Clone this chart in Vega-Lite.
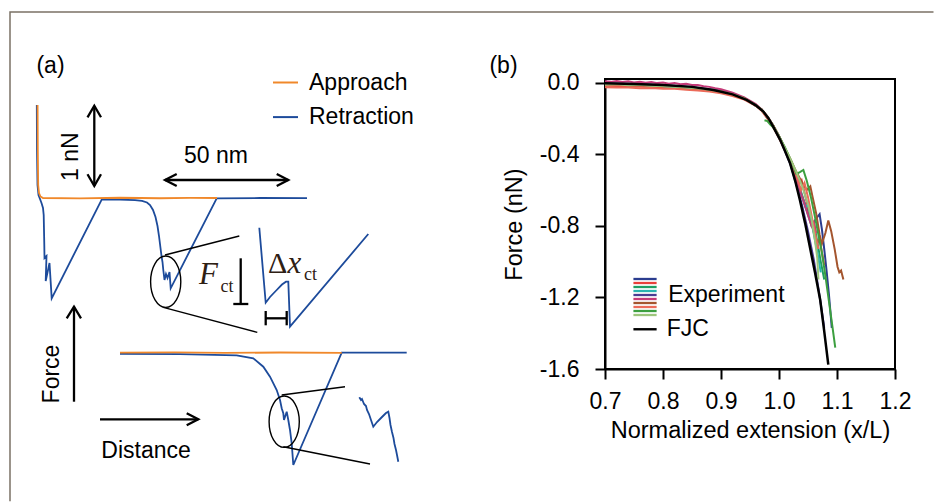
{
  "$schema": "https://vega.github.io/schema/vega-lite/v6.json",
  "padding": 0,
  "background": "white",
  "config": {"font": "Liberation Sans", "view": {"stroke": null}},
  "spacing": 125,
  "bounds": "flush",
  "center": true,
  "resolve": {"scale": {"color": "independent"}, "legend": {"color": "independent"}},
  "datasets": {
    "border": [
      {"seq": 1, "nm": 4, "nN": -3.79},
      {"seq": 2, "nm": 4, "nN": 2.325},
      {"seq": 3, "nm": 373.4, "nN": 2.325}
    ],
    "approach": [
      {"series": "Approach", "part": "aT", "seq": 1, "nm": 15.04, "nN": 1.1625},
      {"series": "Approach", "part": "aT", "seq": 2, "nm": 15.08, "nN": 0.85},
      {"series": "Approach", "part": "aT", "seq": 3, "nm": 15.12, "nN": 0.6},
      {"series": "Approach", "part": "aT", "seq": 4, "nm": 15.2, "nN": 0.35},
      {"series": "Approach", "part": "aT", "seq": 5, "nm": 15.28, "nN": 0.1625},
      {"series": "Approach", "part": "aT", "seq": 6, "nm": 15.6, "nN": 0.0625},
      {"series": "Approach", "part": "aT", "seq": 7, "nm": 16.2, "nN": 0.0188},
      {"series": "Approach", "part": "aT", "seq": 8, "nm": 17.2, "nN": 0},
      {"series": "Approach", "part": "aT", "seq": 9, "nm": 32, "nN": -0.004},
      {"series": "Approach", "part": "aT", "seq": 10, "nm": 48, "nN": 0.003},
      {"series": "Approach", "part": "aT", "seq": 11, "nm": 64, "nN": -0.003},
      {"series": "Approach", "part": "aT", "seq": 12, "nm": 76, "nN": 0.002},
      {"series": "Approach", "part": "aT", "seq": 13, "nm": 86.8, "nN": 0},
      {"series": "Approach", "part": "aB", "seq": 1, "nm": 48, "nN": -1.9338},
      {"series": "Approach", "part": "aB", "seq": 2, "nm": 70, "nN": -1.93},
      {"series": "Approach", "part": "aB", "seq": 3, "nm": 90, "nN": -1.937},
      {"series": "Approach", "part": "aB", "seq": 4, "nm": 112, "nN": -1.9315},
      {"series": "Approach", "part": "aB", "seq": 5, "nm": 136.7, "nN": -1.935}
    ],
    "retraction": [
      {"series": "Retraction", "part": "rT", "seq": 1, "nm": 14.72, "nN": 1.1625},
      {"series": "Retraction", "part": "rT", "seq": 2, "nm": 14.8, "nN": 0.6},
      {"series": "Retraction", "part": "rT", "seq": 3, "nm": 15, "nN": 0.1625},
      {"series": "Retraction", "part": "rT", "seq": 4, "nm": 15.4, "nN": 0.0375},
      {"series": "Retraction", "part": "rT", "seq": 5, "nm": 16, "nN": -0.0125},
      {"series": "Retraction", "part": "rT", "seq": 6, "nm": 16.6, "nN": -0.0625},
      {"series": "Retraction", "part": "rT", "seq": 7, "nm": 17.2, "nN": -0.125},
      {"series": "Retraction", "part": "rT", "seq": 8, "nm": 17.48, "nN": -0.2125},
      {"series": "Retraction", "part": "rT", "seq": 9, "nm": 17.6, "nN": -0.4},
      {"series": "Retraction", "part": "rT", "seq": 10, "nm": 17.72, "nN": -0.5875},
      {"series": "Retraction", "part": "rT", "seq": 11, "nm": 17.8, "nN": -0.75},
      {"series": "Retraction", "part": "rT", "seq": 12, "nm": 18.6, "nN": -0.725},
      {"series": "Retraction", "part": "rT", "seq": 13, "nm": 18.28, "nN": -1.0375},
      {"series": "Retraction", "part": "rT", "seq": 14, "nm": 19.8, "nN": -0.8125},
      {"series": "Retraction", "part": "rT", "seq": 15, "nm": 20.68, "nN": -1.2538},
      {"series": "Retraction", "part": "rT", "seq": 16, "nm": 40.68, "nN": -0.02},
      {"series": "Retraction", "part": "rT", "seq": 17, "nm": 48, "nN": -0.021},
      {"series": "Retraction", "part": "rT", "seq": 18, "nm": 54, "nN": -0.026},
      {"series": "Retraction", "part": "rT", "seq": 19, "nm": 56.8, "nN": -0.036},
      {"series": "Retraction", "part": "rT", "seq": 20, "nm": 58.8, "nN": -0.0563},
      {"series": "Retraction", "part": "rT", "seq": 21, "nm": 60, "nN": -0.0875},
      {"series": "Retraction", "part": "rT", "seq": 22, "nm": 61.2, "nN": -0.15},
      {"series": "Retraction", "part": "rT", "seq": 23, "nm": 62.2, "nN": -0.2375},
      {"series": "Retraction", "part": "rT", "seq": 24, "nm": 63, "nN": -0.35},
      {"series": "Retraction", "part": "rT", "seq": 25, "nm": 63.6, "nN": -0.475},
      {"series": "Retraction", "part": "rT", "seq": 26, "nm": 64.2, "nN": -0.625},
      {"series": "Retraction", "part": "rT", "seq": 27, "nm": 64.6, "nN": -0.725},
      {"series": "Retraction", "part": "rT", "seq": 28, "nm": 65, "nN": -0.8},
      {"series": "Retraction", "part": "rT", "seq": 29, "nm": 65.32, "nN": -0.9},
      {"series": "Retraction", "part": "rT", "seq": 30, "nm": 65.8, "nN": -1.025},
      {"series": "Retraction", "part": "rT", "seq": 31, "nm": 66.4, "nN": -0.95},
      {"series": "Retraction", "part": "rT", "seq": 32, "nm": 67, "nN": -1.0},
      {"series": "Retraction", "part": "rT", "seq": 33, "nm": 67.8, "nN": -0.925},
      {"series": "Retraction", "part": "rT", "seq": 34, "nm": 68.28, "nN": -1.1288},
      {"series": "Retraction", "part": "rT", "seq": 35, "nm": 86.68, "nN": -0.0038},
      {"series": "Retraction", "part": "rT", "seq": 36, "nm": 104, "nN": 0},
      {"series": "Retraction", "part": "rT", "seq": 37, "nm": 122.8, "nN": -0.0025},
      {"series": "Retraction", "part": "rB", "seq": 1, "nm": 48, "nN": -1.948},
      {"series": "Retraction", "part": "rB", "seq": 2, "nm": 72, "nN": -1.952},
      {"series": "Retraction", "part": "rB", "seq": 3, "nm": 94.68, "nN": -1.966},
      {"series": "Retraction", "part": "rB", "seq": 4, "nm": 101.32, "nN": -2.0038},
      {"series": "Retraction", "part": "rB", "seq": 5, "nm": 105.32, "nN": -2.1088},
      {"series": "Retraction", "part": "rB", "seq": 6, "nm": 108, "nN": -2.2338},
      {"series": "Retraction", "part": "rB", "seq": 7, "nm": 110.68, "nN": -2.4},
      {"series": "Retraction", "part": "rB", "seq": 8, "nm": 112, "nN": -2.525},
      {"series": "Retraction", "part": "rB", "seq": 9, "nm": 112.68, "nN": -2.6288},
      {"series": "Retraction", "part": "rB", "seq": 10, "nm": 113.32, "nN": -2.6913},
      {"series": "Retraction", "part": "rB", "seq": 11, "nm": 113.6, "nN": -2.775},
      {"series": "Retraction", "part": "rB", "seq": 12, "nm": 114.68, "nN": -2.6713},
      {"series": "Retraction", "part": "rB", "seq": 13, "nm": 115.32, "nN": -2.775},
      {"series": "Retraction", "part": "rB", "seq": 14, "nm": 116, "nN": -2.9},
      {"series": "Retraction", "part": "rB", "seq": 15, "nm": 116.68, "nN": -3.0663},
      {"series": "Retraction", "part": "rB", "seq": 16, "nm": 117.32, "nN": -3.3375},
      {"series": "Retraction", "part": "rB", "seq": 17, "nm": 136.68, "nN": -1.9338},
      {"series": "Retraction", "part": "rB", "seq": 18, "nm": 162.68, "nN": -1.9338},
      {"series": "Retraction", "part": "iT", "seq": 1, "nm": 103.72, "nN": -0.3713},
      {"series": "Retraction", "part": "iT", "seq": 2, "nm": 106.28, "nN": -1.3088},
      {"series": "Retraction", "part": "iT", "seq": 3, "nm": 108, "nN": -1.2375},
      {"series": "Retraction", "part": "iT", "seq": 4, "nm": 110.68, "nN": -1.15},
      {"series": "Retraction", "part": "iT", "seq": 5, "nm": 112.8, "nN": -1.0813},
      {"series": "Retraction", "part": "iT", "seq": 6, "nm": 114.4, "nN": -1.0463},
      {"series": "Retraction", "part": "iT", "seq": 7, "nm": 115.32, "nN": -1.0463},
      {"series": "Retraction", "part": "iT", "seq": 8, "nm": 116, "nN": -1.6088},
      {"series": "Retraction", "part": "iT", "seq": 9, "nm": 147.32, "nN": -0.45},
      {"series": "Retraction", "part": "iB", "seq": 1, "nm": 143.72, "nN": -2.4913},
      {"series": "Retraction", "part": "iB", "seq": 2, "nm": 144.4, "nN": -2.525},
      {"series": "Retraction", "part": "iB", "seq": 3, "nm": 144.8, "nN": -2.5125},
      {"series": "Retraction", "part": "iB", "seq": 4, "nm": 145.6, "nN": -2.575},
      {"series": "Retraction", "part": "iB", "seq": 5, "nm": 146.4, "nN": -2.6},
      {"series": "Retraction", "part": "iB", "seq": 6, "nm": 146.8, "nN": -2.65},
      {"series": "Retraction", "part": "iB", "seq": 7, "nm": 147.6, "nN": -2.7},
      {"series": "Retraction", "part": "iB", "seq": 8, "nm": 148.4, "nN": -2.775},
      {"series": "Retraction", "part": "iB", "seq": 9, "nm": 149.32, "nN": -2.8588},
      {"series": "Retraction", "part": "iB", "seq": 10, "nm": 150.8, "nN": -2.8},
      {"series": "Retraction", "part": "iB", "seq": 11, "nm": 152.4, "nN": -2.75},
      {"series": "Retraction", "part": "iB", "seq": 12, "nm": 153.6, "nN": -2.7125},
      {"series": "Retraction", "part": "iB", "seq": 13, "nm": 154.4, "nN": -2.6875},
      {"series": "Retraction", "part": "iB", "seq": 14, "nm": 155.32, "nN": -2.6713},
      {"series": "Retraction", "part": "iB", "seq": 15, "nm": 155.8, "nN": -2.75},
      {"series": "Retraction", "part": "iB", "seq": 16, "nm": 156.2, "nN": -2.8375},
      {"series": "Retraction", "part": "iB", "seq": 17, "nm": 156.8, "nN": -2.925},
      {"series": "Retraction", "part": "iB", "seq": 18, "nm": 157.4, "nN": -3.0},
      {"series": "Retraction", "part": "iB", "seq": 19, "nm": 157.8, "nN": -3.075},
      {"series": "Retraction", "part": "iB", "seq": 20, "nm": 158.4, "nN": -3.15},
      {"series": "Retraction", "part": "iB", "seq": 21, "nm": 158.8, "nN": -3.2125},
      {"series": "Retraction", "part": "iB", "seq": 22, "nm": 159.32, "nN": -3.2963}
    ],
    "guides": [
      {"part": "tT1", "seq": 1, "nm": 66, "nN": -0.7125},
      {"part": "tT1", "seq": 2, "nm": 95.72, "nN": -0.475},
      {"part": "tT2", "seq": 1, "nm": 65.32, "nN": -1.3663},
      {"part": "tT2", "seq": 2, "nm": 102.92, "nN": -1.6788},
      {"part": "tB1", "seq": 1, "nm": 112.68, "nN": -2.4625},
      {"part": "tB1", "seq": 2, "nm": 138, "nN": -2.3588},
      {"part": "tB2", "seq": 1, "nm": 113.32, "nN": -3.1088},
      {"part": "tB2", "seq": 2, "nm": 148, "nN": -3.325}
    ],
    "arrows": [
      {"part": "s1", "seq": 1, "nm": 37.72, "nN": 1.15},
      {"part": "s1", "seq": 2, "nm": 37.72, "nN": 0.15},
      {"part": "h1", "seq": 1, "nm": 35, "nN": 1.0088},
      {"part": "h1", "seq": 2, "nm": 37.72, "nN": 1.1538},
      {"part": "h1", "seq": 3, "nm": 40.4, "nN": 1.0088},
      {"part": "h2", "seq": 1, "nm": 35, "nN": 0.2963},
      {"part": "h2", "seq": 2, "nm": 37.72, "nN": 0.15},
      {"part": "h2", "seq": 3, "nm": 40.4, "nN": 0.2963},
      {"part": "s2", "seq": 1, "nm": 66, "nN": 0.225},
      {"part": "s2", "seq": 2, "nm": 115.32, "nN": 0.225},
      {"part": "h3", "seq": 1, "nm": 70.68, "nN": 0.3},
      {"part": "h3", "seq": 2, "nm": 66, "nN": 0.225},
      {"part": "h3", "seq": 3, "nm": 70.68, "nN": 0.15},
      {"part": "h4", "seq": 1, "nm": 110.68, "nN": 0.3},
      {"part": "h4", "seq": 2, "nm": 115.32, "nN": 0.225},
      {"part": "h4", "seq": 3, "nm": 110.68, "nN": 0.15},
      {"part": "s3", "seq": 1, "nm": 29.6, "nN": -2.5463},
      {"part": "s3", "seq": 2, "nm": 29.6, "nN": -1.3588},
      {"part": "h5", "seq": 1, "nm": 26.68, "nN": -1.5038},
      {"part": "h5", "seq": 2, "nm": 29.6, "nN": -1.3588},
      {"part": "h5", "seq": 3, "nm": 32.4, "nN": -1.5038},
      {"part": "s4", "seq": 1, "nm": 40, "nN": -2.7663},
      {"part": "s4", "seq": 2, "nm": 79.32, "nN": -2.7663},
      {"part": "h6", "seq": 1, "nm": 74.68, "nN": -2.6913},
      {"part": "h6", "seq": 2, "nm": 79.32, "nN": -2.7663},
      {"part": "h6", "seq": 3, "nm": 74.68, "nN": -2.8413},
      {"part": "fb1", "seq": 1, "nm": 96.28, "nN": -0.7538},
      {"part": "fb1", "seq": 2, "nm": 96.28, "nN": -1.325},
      {"part": "fb2", "seq": 1, "nm": 93.32, "nN": -1.325},
      {"part": "fb2", "seq": 2, "nm": 99.32, "nN": -1.325},
      {"part": "hb", "seq": 1, "nm": 106.28, "nN": -1.5038},
      {"part": "hb", "seq": 2, "nm": 114.68, "nN": -1.5038},
      {"part": "hl", "seq": 1, "nm": 106.28, "nN": -1.4125},
      {"part": "hl", "seq": 2, "nm": 106.28, "nN": -1.5913},
      {"part": "hr", "seq": 1, "nm": 114.68, "nN": -1.4125},
      {"part": "hr", "seq": 2, "nm": 114.68, "nN": -1.5913}
    ],
    "loops": [
      {"nm": 66.28, "nN": -1.0463},
      {"nm": 113.68, "nN": -2.7963}
    ],
    "runs": [
      {"run": "E1"}, {"run": "E2"}, {"run": "E3"}, {"run": "E4"}, {"run": "E5"},
      {"run": "E6"}, {"run": "E7"}, {"run": "E8"}, {"run": "E9"}, {"run": "E10"}
    ],
    "fjc": [
      {"x": 0.70, "y": -0.004}, {"x": 0.75, "y": -0.008}, {"x": 0.80, "y": -0.014},
      {"x": 0.85, "y": -0.024}, {"x": 0.887, "y": -0.041}, {"x": 0.92, "y": -0.066},
      {"x": 0.944, "y": -0.097}, {"x": 0.96, "y": -0.127}, {"x": 0.973, "y": -0.162},
      {"x": 0.982, "y": -0.2}, {"x": 0.99, "y": -0.246}, {"x": 1.002, "y": -0.32},
      {"x": 1.01, "y": -0.38}, {"x": 1.019, "y": -0.45}, {"x": 1.028, "y": -0.55},
      {"x": 1.036, "y": -0.655}, {"x": 1.045, "y": -0.785}, {"x": 1.053, "y": -0.915},
      {"x": 1.062, "y": -1.06}, {"x": 1.071, "y": -1.213}, {"x": 1.078, "y": -1.39},
      {"x": 1.085, "y": -1.576}
    ],
    "exp": [
      {"run": "E1", "x": 0.72, "y": -0.014}, {"run": "E1", "x": 0.76, "y": -0.017}, {"run": "E1", "x": 0.80, "y": -0.022},
      {"run": "E1", "x": 0.84, "y": -0.029}, {"run": "E1", "x": 0.88, "y": -0.041}, {"run": "E1", "x": 0.92, "y": -0.066},
      {"run": "E1", "x": 0.95, "y": -0.104}, {"run": "E1", "x": 0.97, "y": -0.152}, {"run": "E1", "x": 0.98, "y": -0.19},
      {"run": "E1", "x": 0.99, "y": -0.24}, {"run": "E1", "x": 1.0, "y": -0.3}, {"run": "E1", "x": 1.01, "y": -0.37},
      {"run": "E1", "x": 1.02, "y": -0.45}, {"run": "E1", "x": 1.03, "y": -0.55}, {"run": "E1", "x": 1.04, "y": -0.64},
      {"run": "E1", "x": 1.05, "y": -0.72}, {"run": "E1", "x": 1.058, "y": -0.79}, {"run": "E1", "x": 1.064, "y": -0.76},
      {"run": "E1", "x": 1.07, "y": -0.735}, {"run": "E1", "x": 1.074, "y": -0.82}, {"run": "E1", "x": 1.078, "y": -0.93},
      {"run": "E1", "x": 1.082, "y": -1.05}, {"run": "E1", "x": 1.086, "y": -1.18}, {"run": "E1", "x": 1.091, "y": -1.37},

      {"run": "E2", "x": 0.70, "y": -0.018}, {"run": "E2", "x": 0.74, "y": -0.02}, {"run": "E2", "x": 0.78, "y": -0.024},
      {"run": "E2", "x": 0.82, "y": -0.03}, {"run": "E2", "x": 0.86, "y": -0.038}, {"run": "E2", "x": 0.90, "y": -0.053},
      {"run": "E2", "x": 0.93, "y": -0.075}, {"run": "E2", "x": 0.95, "y": -0.105}, {"run": "E2", "x": 0.97, "y": -0.15},
      {"run": "E2", "x": 0.98, "y": -0.19}, {"run": "E2", "x": 0.99, "y": -0.24}, {"run": "E2", "x": 1.0, "y": -0.3},
      {"run": "E2", "x": 1.01, "y": -0.37}, {"run": "E2", "x": 1.02, "y": -0.44}, {"run": "E2", "x": 1.03, "y": -0.52},
      {"run": "E2", "x": 1.036, "y": -0.56}, {"run": "E2", "x": 1.039, "y": -0.545}, {"run": "E2", "x": 1.043, "y": -0.6},
      {"run": "E2", "x": 1.05, "y": -0.7}, {"run": "E2", "x": 1.056, "y": -0.79}, {"run": "E2", "x": 1.062, "y": -0.86},
      {"run": "E2", "x": 1.066, "y": -0.9}, {"run": "E2", "x": 1.07, "y": -0.87}, {"run": "E2", "x": 1.074, "y": -0.95},
      {"run": "E2", "x": 1.078, "y": -1.02},

      {"run": "E3", "x": 0.75, "y": -0.012}, {"run": "E3", "x": 0.80, "y": -0.018}, {"run": "E3", "x": 0.85, "y": -0.027},
      {"run": "E3", "x": 0.90, "y": -0.048}, {"run": "E3", "x": 0.94, "y": -0.086}, {"run": "E3", "x": 0.97, "y": -0.15},
      {"run": "E3", "x": 0.99, "y": -0.24}, {"run": "E3", "x": 1.0, "y": -0.3}, {"run": "E3", "x": 1.01, "y": -0.37},
      {"run": "E3", "x": 1.02, "y": -0.44}, {"run": "E3", "x": 1.03, "y": -0.53}, {"run": "E3", "x": 1.04, "y": -0.63},
      {"run": "E3", "x": 1.05, "y": -0.74}, {"run": "E3", "x": 1.056, "y": -0.8}, {"run": "E3", "x": 1.06, "y": -0.78},
      {"run": "E3", "x": 1.065, "y": -0.87}, {"run": "E3", "x": 1.072, "y": -1.0}, {"run": "E3", "x": 1.078, "y": -1.1},

      {"run": "E4", "x": 0.80, "y": -0.02}, {"run": "E4", "x": 0.85, "y": -0.028}, {"run": "E4", "x": 0.90, "y": -0.05},
      {"run": "E4", "x": 0.94, "y": -0.087}, {"run": "E4", "x": 0.97, "y": -0.152}, {"run": "E4", "x": 0.99, "y": -0.245},
      {"run": "E4", "x": 1.0, "y": -0.305}, {"run": "E4", "x": 1.01, "y": -0.375}, {"run": "E4", "x": 1.02, "y": -0.45},
      {"run": "E4", "x": 1.03, "y": -0.54}, {"run": "E4", "x": 1.04, "y": -0.64}, {"run": "E4", "x": 1.046, "y": -0.7},
      {"run": "E4", "x": 1.05, "y": -0.68}, {"run": "E4", "x": 1.055, "y": -0.76}, {"run": "E4", "x": 1.062, "y": -0.88},
      {"run": "E4", "x": 1.068, "y": -0.98}, {"run": "E4", "x": 1.072, "y": -1.06},

      {"run": "E5", "x": 0.70, "y": -0.004}, {"run": "E5", "x": 0.75, "y": -0.007}, {"run": "E5", "x": 0.80, "y": -0.013},
      {"run": "E5", "x": 0.85, "y": -0.024}, {"run": "E5", "x": 0.90, "y": -0.046}, {"run": "E5", "x": 0.94, "y": -0.086},
      {"run": "E5", "x": 0.97, "y": -0.152}, {"run": "E5", "x": 0.99, "y": -0.246}, {"run": "E5", "x": 1.0, "y": -0.305},
      {"run": "E5", "x": 1.01, "y": -0.38}, {"run": "E5", "x": 1.02, "y": -0.46}, {"run": "E5", "x": 1.03, "y": -0.57},
      {"run": "E5", "x": 1.04, "y": -0.69}, {"run": "E5", "x": 1.05, "y": -0.83}, {"run": "E5", "x": 1.06, "y": -0.99},
      {"run": "E5", "x": 1.068, "y": -1.15}, {"run": "E5", "x": 1.074, "y": -1.28}, {"run": "E5", "x": 1.078, "y": -1.37},

      {"run": "E6", "x": 0.70, "y": 0.008}, {"run": "E6", "x": 0.71, "y": 0.004}, {"run": "E6", "x": 0.72, "y": 0.009},
      {"run": "E6", "x": 0.73, "y": 0.003}, {"run": "E6", "x": 0.74, "y": 0.007}, {"run": "E6", "x": 0.75, "y": 0.001},
      {"run": "E6", "x": 0.76, "y": 0.005}, {"run": "E6", "x": 0.77, "y": -0.001}, {"run": "E6", "x": 0.78, "y": 0.003},
      {"run": "E6", "x": 0.79, "y": -0.003}, {"run": "E6", "x": 0.80, "y": 0.0}, {"run": "E6", "x": 0.81, "y": -0.006},
      {"run": "E6", "x": 0.82, "y": -0.003}, {"run": "E6", "x": 0.83, "y": -0.009}, {"run": "E6", "x": 0.84, "y": -0.007},
      {"run": "E6", "x": 0.85, "y": -0.013}, {"run": "E6", "x": 0.86, "y": -0.014}, {"run": "E6", "x": 0.87, "y": -0.02},
      {"run": "E6", "x": 0.88, "y": -0.024}, {"run": "E6", "x": 0.89, "y": -0.031}, {"run": "E6", "x": 0.90, "y": -0.037},
      {"run": "E6", "x": 0.91, "y": -0.047}, {"run": "E6", "x": 0.92, "y": -0.057}, {"run": "E6", "x": 0.94, "y": -0.083},
      {"run": "E6", "x": 0.96, "y": -0.12}, {"run": "E6", "x": 0.97, "y": -0.15}, {"run": "E6", "x": 0.98, "y": -0.19},
      {"run": "E6", "x": 0.99, "y": -0.24}, {"run": "E6", "x": 1.0, "y": -0.3}, {"run": "E6", "x": 1.01, "y": -0.37},
      {"run": "E6", "x": 1.02, "y": -0.44}, {"run": "E6", "x": 1.03, "y": -0.54}, {"run": "E6", "x": 1.04, "y": -0.64},
      {"run": "E6", "x": 1.05, "y": -0.74}, {"run": "E6", "x": 1.056, "y": -0.8}, {"run": "E6", "x": 1.06, "y": -0.78},
      {"run": "E6", "x": 1.064, "y": -0.84},

      {"run": "E7", "x": 0.85, "y": -0.03}, {"run": "E7", "x": 0.90, "y": -0.05}, {"run": "E7", "x": 0.94, "y": -0.087},
      {"run": "E7", "x": 0.97, "y": -0.15}, {"run": "E7", "x": 0.99, "y": -0.24}, {"run": "E7", "x": 1.0, "y": -0.3},
      {"run": "E7", "x": 1.01, "y": -0.365}, {"run": "E7", "x": 1.02, "y": -0.43}, {"run": "E7", "x": 1.03, "y": -0.5},
      {"run": "E7", "x": 1.04, "y": -0.56}, {"run": "E7", "x": 1.048, "y": -0.6}, {"run": "E7", "x": 1.054, "y": -0.58},
      {"run": "E7", "x": 1.058, "y": -0.64}, {"run": "E7", "x": 1.064, "y": -0.73}, {"run": "E7", "x": 1.07, "y": -0.85},
      {"run": "E7", "x": 1.074, "y": -0.9}, {"run": "E7", "x": 1.08, "y": -0.84}, {"run": "E7", "x": 1.085, "y": -0.77},
      {"run": "E7", "x": 1.09, "y": -0.83}, {"run": "E7", "x": 1.096, "y": -0.93}, {"run": "E7", "x": 1.101, "y": -1.03},
      {"run": "E7", "x": 1.104, "y": -1.06}, {"run": "E7", "x": 1.107, "y": -1.05}, {"run": "E7", "x": 1.111, "y": -1.1},

      {"run": "E8", "x": 0.70, "y": -0.026}, {"run": "E8", "x": 0.72, "y": -0.028}, {"run": "E8", "x": 0.74, "y": -0.027},
      {"run": "E8", "x": 0.76, "y": -0.031}, {"run": "E8", "x": 0.78, "y": -0.03}, {"run": "E8", "x": 0.80, "y": -0.034},
      {"run": "E8", "x": 0.82, "y": -0.035}, {"run": "E8", "x": 0.84, "y": -0.04}, {"run": "E8", "x": 0.86, "y": -0.044},
      {"run": "E8", "x": 0.88, "y": -0.05}, {"run": "E8", "x": 0.90, "y": -0.06}, {"run": "E8", "x": 0.92, "y": -0.075},
      {"run": "E8", "x": 0.94, "y": -0.095}, {"run": "E8", "x": 0.96, "y": -0.13}, {"run": "E8", "x": 0.97, "y": -0.158},
      {"run": "E8", "x": 0.98, "y": -0.2}, {"run": "E8", "x": 0.99, "y": -0.25}, {"run": "E8", "x": 1.0, "y": -0.31},
      {"run": "E8", "x": 1.01, "y": -0.375}, {"run": "E8", "x": 1.02, "y": -0.44}, {"run": "E8", "x": 1.03, "y": -0.52},
      {"run": "E8", "x": 1.038, "y": -0.6}, {"run": "E8", "x": 1.044, "y": -0.56}, {"run": "E8", "x": 1.05, "y": -0.64},
      {"run": "E8", "x": 1.056, "y": -0.74}, {"run": "E8", "x": 1.062, "y": -0.84}, {"run": "E8", "x": 1.068, "y": -0.93},

      {"run": "E9", "x": 0.975, "y": -0.21}, {"run": "E9", "x": 0.98, "y": -0.215}, {"run": "E9", "x": 0.985, "y": -0.235},
      {"run": "E9", "x": 0.99, "y": -0.25}, {"run": "E9", "x": 1.0, "y": -0.3}, {"run": "E9", "x": 1.01, "y": -0.36},
      {"run": "E9", "x": 1.02, "y": -0.43}, {"run": "E9", "x": 1.03, "y": -0.51}, {"run": "E9", "x": 1.036, "y": -0.5},
      {"run": "E9", "x": 1.042, "y": -0.488}, {"run": "E9", "x": 1.048, "y": -0.55}, {"run": "E9", "x": 1.055, "y": -0.64},
      {"run": "E9", "x": 1.062, "y": -0.75}, {"run": "E9", "x": 1.068, "y": -0.85}, {"run": "E9", "x": 1.074, "y": -0.95},
      {"run": "E9", "x": 1.08, "y": -1.08}, {"run": "E9", "x": 1.086, "y": -1.22}, {"run": "E9", "x": 1.092, "y": -1.36},
      {"run": "E9", "x": 1.097, "y": -1.48},

      {"run": "E10", "x": 0.70, "y": -0.012}, {"run": "E10", "x": 0.72, "y": -0.01}, {"run": "E10", "x": 0.74, "y": -0.015},
      {"run": "E10", "x": 0.76, "y": -0.013}, {"run": "E10", "x": 0.78, "y": -0.018}, {"run": "E10", "x": 0.80, "y": -0.02},
      {"run": "E10", "x": 0.82, "y": -0.023}, {"run": "E10", "x": 0.84, "y": -0.027}, {"run": "E10", "x": 0.86, "y": -0.032},
      {"run": "E10", "x": 0.88, "y": -0.04}, {"run": "E10", "x": 0.90, "y": -0.05}, {"run": "E10", "x": 0.92, "y": -0.065},
      {"run": "E10", "x": 0.94, "y": -0.088}, {"run": "E10", "x": 0.96, "y": -0.125}, {"run": "E10", "x": 0.97, "y": -0.152},
      {"run": "E10", "x": 0.98, "y": -0.19}, {"run": "E10", "x": 0.99, "y": -0.24}, {"run": "E10", "x": 1.0, "y": -0.3},
      {"run": "E10", "x": 1.01, "y": -0.365}, {"run": "E10", "x": 1.02, "y": -0.43}, {"run": "E10", "x": 1.03, "y": -0.5},
      {"run": "E10", "x": 1.04, "y": -0.58}, {"run": "E10", "x": 1.05, "y": -0.68}, {"run": "E10", "x": 1.056, "y": -0.76},
      {"run": "E10", "x": 1.062, "y": -0.88}, {"run": "E10", "x": 1.066, "y": -0.98}, {"run": "E10", "x": 1.068, "y": -1.1}
    ]
  },
  "hconcat": [
    {
      "width": 480,
      "height": 448,
      "view": {"stroke": null},
      "layer": [
        {
          "data": {"name": "border"},
          "mark": {"type": "line", "color": "#7b7266", "strokeWidth": 1.5},
          "encoding": {
            "x": {"field": "nm", "type": "quantitative", "scale": {"domain": [0, 192], "nice": false, "zero": false}, "axis": null},
            "y": {"field": "nN", "type": "quantitative", "scale": {"domain": [-3.125, 2.475], "nice": false, "zero": false}, "axis": null},
            "order": {"field": "seq"}
          }
        },
        {
          "data": {"name": "retraction"},
          "mark": {"type": "line", "strokeWidth": 1.8},
          "encoding": {
            "x": {"field": "nm", "type": "quantitative", "axis": null},
            "y": {"field": "nN", "type": "quantitative", "axis": null},
            "detail": {"field": "part"},
            "order": {"field": "seq"},
            "color": {
              "field": "series", "type": "nominal",
              "scale": {"domain": ["Approach", "Retraction"], "range": ["#f0882a", "#1d4b9b"]},
              "legend": {
                "title": null, "orient": "none", "legendX": 272, "legendY": 69,
                "symbolType": "stroke", "symbolStrokeWidth": 2, "symbolSize": 625,
                "labelFontSize": 23, "labelColor": "black", "labelOffset": 10,
                "rowPadding": 8.6, "padding": 0, "labelFont": "Liberation Sans"
              }
            }
          }
        },
        {
          "data": {"name": "approach"},
          "mark": {"type": "line", "strokeWidth": 1.8},
          "encoding": {
            "x": {"field": "nm", "type": "quantitative", "axis": null},
            "y": {"field": "nN", "type": "quantitative", "axis": null},
            "detail": {"field": "part"},
            "order": {"field": "seq"},
            "color": {"field": "series", "type": "nominal"}
          }
        },
        {
          "data": {"name": "guides"},
          "mark": {"type": "line", "color": "black", "strokeWidth": 1.4},
          "encoding": {
            "x": {"field": "nm", "type": "quantitative", "axis": null},
            "y": {"field": "nN", "type": "quantitative", "axis": null},
            "detail": {"field": "part"},
            "order": {"field": "seq"}
          }
        },
        {
          "data": {"name": "arrows"},
          "mark": {"type": "line", "color": "black", "strokeWidth": 2.3, "strokeJoin": "miter"},
          "encoding": {
            "x": {"field": "nm", "type": "quantitative", "axis": null},
            "y": {"field": "nN", "type": "quantitative", "axis": null},
            "detail": {"field": "part"},
            "order": {"field": "seq"}
          }
        },
        {
          "data": {"name": "loops"},
          "mark": {
            "type": "point", "filled": false, "stroke": "black", "strokeWidth": 1.4, "opacity": 1,
            "size": 2642,
            "shape": "M0,-1C0.3245,-1,0.5875,-0.5523,0.5875,0C0.5875,0.5523,0.3245,1,0,1C-0.3245,1,-0.5875,0.5523,-0.5875,0C-0.5875,-0.5523,-0.3245,-1,0,-1Z"
          },
          "encoding": {
            "x": {"field": "nm", "type": "quantitative", "axis": null},
            "y": {"field": "nN", "type": "quantitative", "axis": null}
          }
        },
        {
          "data": {"values": [{}]},
          "mark": {"type": "text", "text": "(a)", "fontSize": 23, "color": "black", "align": "center", "baseline": "middle"},
          "encoding": {"x": {"datum": 20.2, "axis": null}, "y": {"datum": 1.65, "axis": null}}
        },
        {
          "data": {"values": [{}]},
          "mark": {"type": "text", "text": "(b)", "fontSize": 23, "color": "black", "align": "center", "baseline": "middle"},
          "encoding": {"x": {"datum": 201.4, "axis": null}, "y": {"datum": 1.65, "axis": null}}
        },
        {
          "data": {"values": [{}]},
          "mark": {"type": "text", "text": "1 nN", "fontSize": 23, "color": "black", "align": "center", "baseline": "middle", "angle": 270},
          "encoding": {"x": {"datum": 28.4, "axis": null}, "y": {"datum": 0.516, "axis": null}}
        },
        {
          "data": {"values": [{}]},
          "mark": {"type": "text", "text": "50 nm", "fontSize": 23, "color": "black", "align": "center", "baseline": "middle"},
          "encoding": {"x": {"datum": 86.4, "axis": null}, "y": {"datum": 0.519, "axis": null}}
        },
        {
          "data": {"values": [{}]},
          "mark": {"type": "text", "text": "Force", "fontSize": 23, "color": "black", "align": "center", "baseline": "middle", "angle": 270},
          "encoding": {"x": {"datum": 20.8, "axis": null}, "y": {"datum": -2.2, "axis": null}}
        },
        {
          "data": {"values": [{}]},
          "mark": {"type": "text", "text": "Distance", "fontSize": 23, "color": "black", "align": "center", "baseline": "middle"},
          "encoding": {"x": {"datum": 58.4, "axis": null}, "y": {"datum": -3.1625, "axis": null}}
        },
        {
          "data": {"values": [{}]},
          "mark": {"type": "text", "text": "F", "font": "Liberation Serif", "fontStyle": "italic", "fontSize": 31, "color": "#2e2014", "align": "left", "baseline": "alphabetic"},
          "encoding": {"x": {"datum": 79.6, "axis": null}, "y": {"datum": -1.075, "axis": null}}
        },
        {
          "data": {"values": [{}]},
          "mark": {"type": "text", "text": "ct", "font": "Liberation Serif", "fontSize": 18, "color": "#2e2014", "align": "left", "baseline": "alphabetic"},
          "encoding": {"x": {"datum": 88.2, "axis": null}, "y": {"datum": -1.175, "axis": null}}
        },
        {
          "data": {"values": [{}]},
          "mark": {"type": "text", "text": "Δ", "font": "Liberation Serif", "fontSize": 30, "color": "#2e2014", "align": "left", "baseline": "alphabetic"},
          "encoding": {"x": {"datum": 107.2, "axis": null}, "y": {"datum": -0.9375, "axis": null}}
        },
        {
          "data": {"values": [{}]},
          "mark": {"type": "text", "text": "x", "font": "Liberation Serif", "fontStyle": "italic", "fontSize": 31, "color": "#2e2014", "align": "left", "baseline": "alphabetic"},
          "encoding": {"x": {"datum": 115.0, "axis": null}, "y": {"datum": -0.9375, "axis": null}}
        },
        {
          "data": {"values": [{}]},
          "mark": {"type": "text", "text": "ct", "font": "Liberation Serif", "fontSize": 18, "color": "#2e2014", "align": "left", "baseline": "alphabetic"},
          "encoding": {"x": {"datum": 121.6, "axis": null}, "y": {"datum": -1.025, "axis": null}}
        }
      ]
    },
    {
      "width": 290,
      "height": 290,
      "view": {"stroke": "black", "strokeWidth": 2},
      "resolve": {"scale": {"y": "independent"}},
      "layer": [
        {
          "layer": [
            {
              "data": {"name": "exp"},
              "mark": {"type": "line", "strokeWidth": 2},
              "encoding": {
                "x": {
                  "field": "x", "type": "quantitative",
                  "scale": {"domain": [0.7, 1.2], "nice": false, "zero": false},
                  "axis": {
                    "values": [0.7, 0.8, 0.9, 1.0, 1.1, 1.2], "format": ".1f",
                    "title": "Normalized extension (x/L)", "grid": false,
                    "tickSize": 10, "tickWidth": 2, "tickColor": "black",
                    "domainColor": "black", "domainWidth": 2,
                    "labelFontSize": 23, "labelColor": "black", "labelPadding": 11, "labelFlush": false, "labelOverlap": false,
                    "titleFontSize": 23.5, "titleFontWeight": "normal", "titleColor": "black", "titlePadding": 5
                  }
                },
                "y": {
                  "field": "y", "type": "quantitative",
                  "scale": {"domain": [-1.6, 0.02], "nice": false, "zero": false},
                  "axis": {
                    "values": [0, -0.4, -0.8, -1.2, -1.6],
                    "labelExpr": "datum.value == 0 ? '0.0' : '-' + format(abs(datum.value), '.1f')",
                    "title": "Force (nN)", "grid": false,
                    "tickSize": 10, "tickWidth": 2, "tickColor": "black",
                    "domainColor": "black", "domainWidth": 2,
                    "labelFontSize": 23, "labelColor": "black", "labelPadding": 16, "labelOverlap": false,
                    "titleFontSize": 23.5, "titleFontWeight": "normal", "titleColor": "black", "titlePadding": 13
                  }
                },
                "color": {
                  "field": "run", "type": "nominal",
                  "scale": {
                    "domain": ["E1", "E2", "E3", "E4", "E5", "E6", "E7", "E8", "E9", "E10"],
                    "range": ["#2b3d8f", "#e8403a", "#1f9e63", "#2ab3b0", "#4a3c92", "#c43a78", "#a4552e", "#ec6b5a", "#3c9f3f", "#9dc57c"]
                  },
                  "legend": null
                }
              }
            },
            {
              "data": {"name": "fjc"},
              "mark": {"type": "line", "color": "black", "strokeWidth": 2.5},
              "encoding": {
                "x": {"field": "x", "type": "quantitative"},
                "y": {"field": "y", "type": "quantitative"}
              }
            },
            {
              "data": {"values": [{}]},
              "mark": {"type": "rule", "color": "black", "strokeWidth": 2.4},
              "encoding": {"x": {"datum": 0.749}, "x2": {"datum": 0.789}, "y": {"datum": -1.378}}
            },
            {
              "data": {"values": [{}]},
              "mark": {"type": "text", "text": "Experiment", "fontSize": 23, "color": "black", "align": "left", "baseline": "middle"},
              "encoding": {"x": {"datum": 0.809}, "y": {"datum": -1.187}}
            },
            {
              "data": {"values": [{}]},
              "mark": {"type": "text", "text": "FJC", "fontSize": 23, "color": "black", "align": "left", "baseline": "middle"},
              "encoding": {"x": {"datum": 0.8063}, "y": {"datum": -1.378}}
            }
          ]
        },
        {
          "data": {"name": "runs"},
          "mark": {"type": "rule", "strokeWidth": 2.3},
          "encoding": {
            "x": {"datum": 0.749},
            "x2": {"datum": 0.789},
            "y": {"field": "run", "type": "nominal", "sort": null, "scale": {"type": "point", "range": [200, 236], "padding": 0}, "axis": null},
            "color": {"field": "run", "type": "nominal", "legend": null}
          }
        }
      ]
    }
  ]
}
